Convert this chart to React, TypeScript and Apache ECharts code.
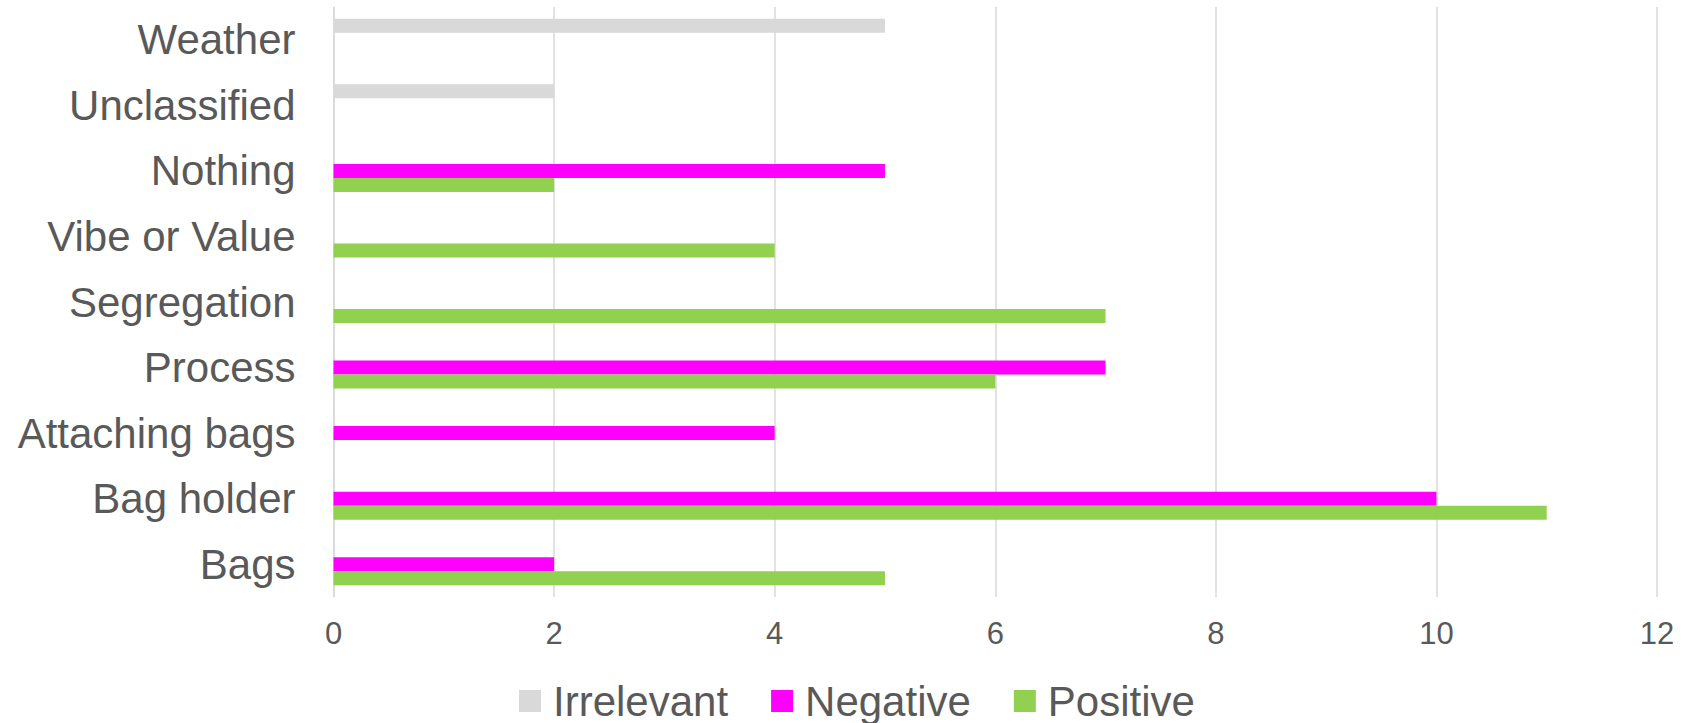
import React, { useEffect, useRef } from "react";
import * as echarts from "echarts";

const categories = [
  "Bags",
  "Bag holder",
  "Attaching bags",
  "Process",
  "Segregation",
  "Vibe or Value",
  "Nothing",
  "Unclassified",
  "Weather",
];
const irrelevant = [null, null, null, null, null, null, null, 2, 5];
const negative = [2, 10, 4, 7, null, null, 5, null, null];
const positive = [5, 11, null, 6, 7, 4, 2, null, null];
const xTicks = { min: 0, max: 12, interval: 2 };

const FONT = "'Liberation Sans', Arial, sans-serif";
const TEXT = "#595959";

export default function App() {
  const ref = useRef<HTMLDivElement>(null);
  useEffect(() => {
    if (!ref.current) return;
    const chart = echarts.init(ref.current, undefined, { renderer: "svg" });
    chart.setOption({
      animation: false,
      textStyle: { fontFamily: FONT },
      grid: { left: 333.5, right: 32, top: 7, bottom: 126, containLabel: false },
      legend: {
        left: 519,
        top: 680,
        padding: 0,
        itemWidth: 22,
        itemHeight: 22,
        itemGap: 43,
        icon: "rect",
        textStyle: {
          fontFamily: FONT,
          fontSize: 42,
          color: TEXT,
          padding: [0, 0, 0, 7],
        },
        data: ["Irrelevant", "Negative", "Positive"],
      },
      xAxis: {
        type: "value",
        min: xTicks.min,
        max: xTicks.max,
        interval: xTicks.interval,
        axisLine: { show: false },
        axisTick: { show: false },
        axisLabel: { fontSize: 31, color: TEXT, margin: 21, fontFamily: FONT },
        splitLine: { show: true, lineStyle: { color: "#d9d9d9", width: 1.5 } },
      },
      yAxis: {
        type: "category",
        data: categories,
        axisLine: { show: true, lineStyle: { color: "#d9d9d9", width: 1.5 } },
        axisTick: { show: false },
        axisLabel: { fontSize: 42, color: TEXT, margin: 38, fontFamily: FONT },
      },
      series: [
        {
          name: "Irrelevant",
          type: "bar",
          data: irrelevant,
          barWidth: 14,
          barGap: "0%",
          itemStyle: { color: "#d9d9d9" },
        },
        {
          name: "Negative",
          type: "bar",
          data: negative,
          barWidth: 14,
          barGap: "0%",
          itemStyle: { color: "#ff00ff" },
        },
        {
          name: "Positive",
          type: "bar",
          data: positive,
          barWidth: 14,
          barGap: "0%",
          itemStyle: { color: "#92d050" },
        },
      ],
    });
    return () => chart.dispose();
  }, []);
  return (
    <div
      ref={ref}
      style={{ position: "absolute", left: 0, top: 0, width: 1689, height: 723, background: "#fff" }}
    />
  );
}
